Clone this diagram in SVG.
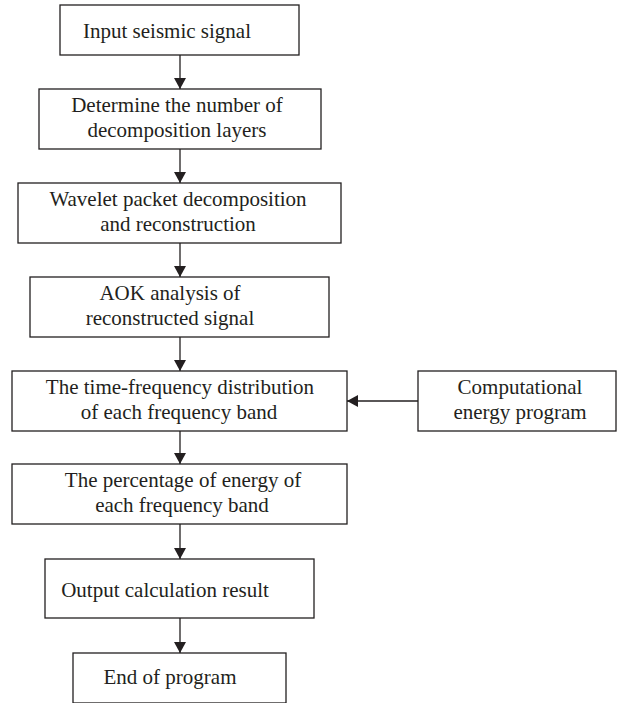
<svg xmlns="http://www.w3.org/2000/svg" width="618" height="703" viewBox="0 0 618 703">
<defs>
<style>
.box{fill:#fff;stroke:#231f20;stroke-width:1.3}
.t{font-family:"Liberation Serif","Times New Roman",serif;font-size:21px;fill:#231f20;text-anchor:middle}
.c{stroke:#231f20;stroke-width:1.3;fill:none;marker-end:url(#ah)}
</style>
<marker id="ah" markerUnits="userSpaceOnUse" markerWidth="12" markerHeight="12" refX="11" refY="6" orient="auto">
<path d="M0,0 L11,6 L0,12 z" fill="#231f20"/>
</marker>
</defs>
<rect width="618" height="703" fill="#fff"/>
<g id="connectors">
<line class="c" x1="180" y1="55" x2="180" y2="89"/>
<line class="c" x1="180" y1="149" x2="180" y2="183"/>
<line class="c" x1="180" y1="243" x2="180" y2="277"/>
<line class="c" x1="180" y1="337" x2="180" y2="371"/>
<line class="c" x1="180" y1="431" x2="180" y2="464"/>
<line class="c" x1="180" y1="524" x2="180" y2="559"/>
<line class="c" x1="180" y1="618" x2="180" y2="653"/>
<line class="c" x1="418" y1="401" x2="347" y2="401"/>
</g>
<g id="n1"><rect class="box" x="60" y="5" width="239" height="50"/><text class="t" x="167" y="38">Input seismic signal</text></g>
<g id="n2"><rect class="box" x="39" y="89" width="282" height="60"/><text class="t" x="177" y="112">Determine the number of</text><text class="t" x="177" y="137">decomposition layers</text></g>
<g id="n3"><rect class="box" x="18" y="183" width="323" height="60"/><text class="t" x="178" y="206">Wavelet packet decomposition</text><text class="t" x="178" y="231">and reconstruction</text></g>
<g id="n4"><rect class="box" x="30" y="277" width="299" height="60"/><text class="t" x="170" y="300">AOK analysis of</text><text class="t" x="170" y="325">reconstructed signal</text></g>
<g id="n5"><rect class="box" x="12" y="371" width="335" height="60"/><text class="t" x="180" y="394">The time-frequency distribution</text><text class="t" x="179" y="419">of each frequency band</text></g>
<g id="n6"><rect class="box" x="12" y="464" width="335" height="60"/><text class="t" x="183" y="487">The percentage of energy of</text><text class="t" x="182" y="512">each frequency band</text></g>
<g id="n7"><rect class="box" x="45" y="559" width="269" height="59"/><text class="t" x="165" y="597">Output calculation result</text></g>
<g id="n8"><rect class="box" x="73" y="653" width="213" height="50"/><text class="t" x="170" y="684">End of program</text></g>
<g id="n9"><rect class="box" x="418" y="371" width="198" height="60"/><text class="t" x="520" y="394">Computational</text><text class="t" x="520" y="419">energy program</text></g>
</svg>
